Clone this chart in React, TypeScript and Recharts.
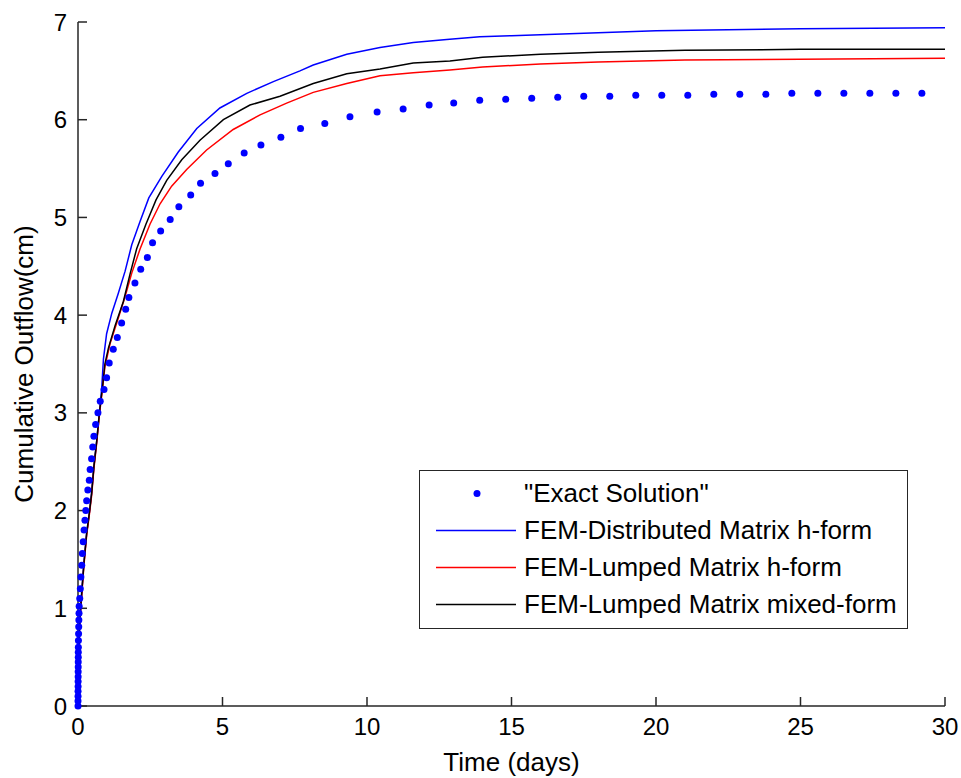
import { ComposedChart, Label, Legend, Line, Scatter, XAxis, YAxis } from "recharts";

const xTicks = [0, 5, 10, 15, 20, 25, 30];
const yTicks = [0, 1, 2, 3, 4, 5, 6, 7];

// [time (days), cumulative outflow (cm)]
const exactSolution = [
  [0, 0], [0, 0.05], [0.001, 0.1], [0.002, 0.15], [0.003, 0.2], [0.004, 0.25], [0.005, 0.3],
  [0.006, 0.35], [0.007, 0.4], [0.008, 0.45], [0.009, 0.5], [0.01, 0.55], [0.012, 0.6],
  [0.015, 0.67], [0.02, 0.74], [0.025, 0.81], [0.03, 0.88], [0.035, 0.95], [0.04, 1.02],
  [0.06, 1.1], [0.08, 1.2], [0.1, 1.32],
  [0.13, 1.44], [0.15, 1.56], [0.18, 1.68], [0.21, 1.8], [0.24, 1.9], [0.27, 2.0], [0.3, 2.1],
  [0.34, 2.21], [0.39, 2.31], [0.42, 2.42], [0.47, 2.53], [0.51, 2.65], [0.55, 2.76], [0.61, 2.88],
  [0.69, 3.0], [0.77, 3.12], [0.9, 3.24], [0.99, 3.36], [1.08, 3.51], [1.22, 3.65], [1.36, 3.77],
  [1.51, 3.92], [1.65, 4.06], [1.76, 4.18], [1.97, 4.33], [2.17, 4.47], [2.4, 4.59], [2.58, 4.74],
  [2.86, 4.86], [3.19, 4.98], [3.49, 5.11], [3.9, 5.23], [4.24, 5.35], [4.74, 5.45], [5.2, 5.55],
  [5.75, 5.66], [6.33, 5.74], [7.02, 5.82], [7.7, 5.91], [8.54, 5.96], [9.41, 6.03], [10.35, 6.08],
  [11.25, 6.11], [12.15, 6.15], [13.0, 6.17], [13.9, 6.2], [14.8, 6.21], [15.7, 6.22], [16.6, 6.23],
  [17.5, 6.24], [18.4, 6.24], [19.3, 6.25], [20.2, 6.25], [21.1, 6.25], [22.0, 6.26], [22.9, 6.26],
  [23.8, 6.26], [24.7, 6.27], [25.6, 6.27], [26.5, 6.27], [27.4, 6.27], [28.3, 6.27], [29.2, 6.27],
];

const distributedH = [
  [0, 0], [0.02, 0.45], [0.05, 0.8], [0.1, 1.05], [0.2, 1.45], [0.3, 1.77], [0.39, 1.97],
  [0.47, 2.18], [0.55, 2.45], [0.65, 2.72], [0.74, 3.0], [0.82, 3.25], [0.88, 3.55], [0.99, 3.81],
  [1.17, 4.02], [1.39, 4.22], [1.63, 4.45], [1.86, 4.72], [2.15, 4.96], [2.45, 5.2], [2.9, 5.42],
  [3.47, 5.67], [4.11, 5.91], [4.91, 6.12], [5.84, 6.27], [6.76, 6.39], [7.68, 6.5], [8.14, 6.56],
  [9.3, 6.67], [10.45, 6.74], [11.6, 6.79], [12.76, 6.82], [13.9, 6.85], [15, 6.86], [17, 6.88],
  [20, 6.91], [25, 6.93], [30, 6.94],
];

const lumpedH = [
  [0, 0], [0.02, 0.45], [0.05, 0.8], [0.1, 1.02], [0.2, 1.42], [0.3, 1.75], [0.39, 1.95],
  [0.47, 2.15], [0.55, 2.43], [0.65, 2.7], [0.74, 2.98], [0.85, 3.25], [0.93, 3.47], [1.11, 3.71],
  [1.34, 3.92], [1.63, 4.19], [1.86, 4.43], [2.15, 4.68], [2.49, 4.93], [2.84, 5.14], [3.24, 5.32],
  [3.76, 5.49], [4.45, 5.69], [5.37, 5.9], [6.3, 6.05], [7.22, 6.17], [8.14, 6.28], [9.3, 6.37],
  [10.45, 6.45], [11.6, 6.48], [12.87, 6.51], [14, 6.54], [16, 6.57], [18, 6.59], [21, 6.61],
  [25, 6.62], [30, 6.63],
];

const lumpedMixed = [
  [0, 0], [0.02, 0.45], [0.05, 0.8], [0.1, 1.04], [0.2, 1.44], [0.3, 1.77], [0.39, 1.97],
  [0.47, 2.17], [0.55, 2.45], [0.65, 2.72], [0.74, 3.0], [0.85, 3.27], [0.93, 3.5], [1.05, 3.66],
  [1.28, 3.89], [1.57, 4.14], [1.8, 4.42], [2.03, 4.68], [2.35, 4.93], [2.7, 5.18], [3.07, 5.38],
  [3.59, 5.59], [4.22, 5.79], [5.03, 6.0], [5.95, 6.15], [6.99, 6.24], [8.14, 6.37], [9.3, 6.47],
  [10.45, 6.52], [11.6, 6.58], [12.87, 6.6], [14, 6.64], [16, 6.67], [18, 6.69], [21, 6.71],
  [25, 6.72], [30, 6.72],
];

const seriesNames = [
  '"Exact Solution"',
  "FEM-Distributed Matrix h-form",
  "FEM-Lumped Matrix h-form",
  "FEM-Lumped Matrix mixed-form",
];
const seriesColors = ["#0000ff", "#0000ff", "#ff0000", "#000000"];

const toRows = (pairs: number[][]) => pairs.map(([t, v]) => ({ t, v }));

const FONT = "'Liberation Sans', Arial, sans-serif";
const AXIS = "#262626";

function LegendBox() {
  return (
    <div
      style={{
        border: `1.5px solid ${AXIS}`,
        background: "#fff",
        boxSizing: "border-box",
        height: 159,
        paddingTop: 4,
        fontFamily: FONT,
        fontSize: 26,
        color: "#000",
      }}
    >
      {seriesNames.map((name, i) => (
        <div key={name} style={{ display: "flex", alignItems: "center", height: 37 }}>
          <svg width={104} height={37} style={{ flex: "none" }}>
            {i === 0 ? (
              <circle cx={57} cy={18.5} r={3.5} fill={seriesColors[i]} />
            ) : (
              <line x1={16} x2={96} y1={18.5} y2={18.5} stroke={seriesColors[i]} strokeWidth={1.5} />
            )}
          </svg>
          <span style={{ whiteSpace: "nowrap" }}>{name}</span>
        </div>
      ))}
    </div>
  );
}

export default function App() {
  const tickStyle = { fill: "#000", fontSize: 24, fontFamily: FONT };
  const line = { stroke: AXIS, strokeWidth: 1.5 };
  return (
    <div style={{ position: "absolute", left: 0, top: 0, width: 961, height: 778 }}>
      <ComposedChart
        width={961}
        height={778}
        margin={{ top: 22, right: 16, bottom: 0, left: 0 }}
        style={{ fontFamily: FONT, background: "#fff" }}
      >
        <XAxis
          xAxisId="b"
          dataKey="t"
          type="number"
          domain={[0, 30]}
          ticks={xTicks}
          height={72}
          tickSize={-9}
          tickMargin={21}
          tick={tickStyle}
          axisLine={line}
          tickLine={line}
        >
          <Label
            content={({ viewBox }: any) => (
              <text
                x={viewBox.x + viewBox.width / 2}
                y={771}
                textAnchor="middle"
                fontSize={26}
                fontFamily={FONT}
                fill="#000"
              >
                Time (days)
              </text>
            )}
          />
        </XAxis>
        <XAxis
          xAxisId="top"
          orientation="top"
          type="number"
          domain={[0, 30]}
          ticks={xTicks}
          height={0}
          tickSize={-9}
          tick={false}
          axisLine={line}
          tickLine={line}
        />
        <YAxis
          yAxisId="l"
          dataKey="v"
          type="number"
          domain={[0, 7]}
          ticks={yTicks}
          width={78}
          tickSize={-9}
          tickMargin={20}
          tick={tickStyle}
          axisLine={line}
          tickLine={line}
        >
          <Label
            content={({ viewBox }: any) => {
              const cy = viewBox.y + viewBox.height / 2;
              return (
                <text
                  transform={`translate(24, ${cy}) rotate(-90)`}
                  textAnchor="middle"
                  dominantBaseline="central"
                  fontSize={26}
                  fontFamily={FONT}
                  fill="#000"
                >
                  Cumulative Outflow(cm)
                </text>
              );
            }}
          />
        </YAxis>
        <YAxis
          yAxisId="r"
          orientation="right"
          type="number"
          domain={[0, 7]}
          ticks={yTicks}
          width={0}
          tickSize={-9}
          tick={false}
          axisLine={line}
          tickLine={line}
        />
        <Legend
          layout="horizontal"
          verticalAlign="middle"
          align="center"
          content={() => <LegendBox />}
          wrapperStyle={{ position: "absolute", left: 419, top: 470, width: 489, height: 159 }}
        />
        <Line
          xAxisId="b"
          yAxisId="l"
          data={toRows(distributedH)}
          dataKey="v"
          name={seriesNames[1]}
          stroke={seriesColors[1]}
          strokeWidth={1.5}
          dot={false}
          isAnimationActive={false}
        />
        <Line
          xAxisId="b"
          yAxisId="l"
          data={toRows(lumpedH)}
          dataKey="v"
          name={seriesNames[2]}
          stroke={seriesColors[2]}
          strokeWidth={1.5}
          dot={false}
          isAnimationActive={false}
        />
        <Line
          xAxisId="b"
          yAxisId="l"
          data={toRows(lumpedMixed)}
          dataKey="v"
          name={seriesNames[3]}
          stroke={seriesColors[3]}
          strokeWidth={1.5}
          dot={false}
          isAnimationActive={false}
        />
        <Scatter
          xAxisId="b"
          yAxisId="l"
          data={toRows(exactSolution)}
          dataKey="v"
          name={seriesNames[0]}
          fill={seriesColors[0]}
          shape={(p: any) => <circle cx={p.cx} cy={p.cy} r={3.5} fill={seriesColors[0]} />}
          isAnimationActive={false}
        />
      </ComposedChart>
    </div>
  );
}
